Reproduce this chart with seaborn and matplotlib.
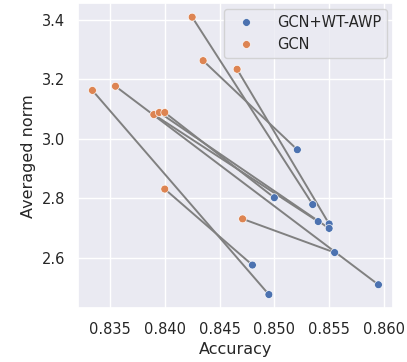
#!/usr/bin/env python3
"""
Purpose: Accuracy vs averaged norm, GCN and GCN+WT-AWP pairs
"""

import pandas as pd
import matplotlib
matplotlib.use('Agg')
import matplotlib.pyplot as plt
import seaborn as sns

# paired runs: index i of GCN goes with index i of GCN+WT-AWP
acc_gcn = [0.8425, 0.8435, 0.8466, 0.8334, 0.8355, 0.8390, 0.8395, 0.8400, 0.8400, 0.8471]
norm_gcn = [3.408, 3.262, 3.233, 3.162, 3.176, 3.081, 3.088, 3.088, 2.831, 2.731]
acc_awp = [0.8535, 0.8521, 0.8550, 0.8495, 0.8595, 0.8540, 0.8550, 0.8500, 0.8480, 0.8555]
norm_awp = [2.779, 2.963, 2.714, 2.477, 2.510, 2.722, 2.699, 2.802, 2.576, 2.618]
methods = ['GCN+WT-AWP', 'GCN']


# --------------------------------------------------
def main():
    """Draw the figure"""

    sns.set_theme(style='darkgrid', font_scale=0.96)

    df = pd.concat([
        pd.DataFrame({'Accuracy': acc_awp, 'Averaged norm': norm_awp, 'method': methods[0]}),
        pd.DataFrame({'Accuracy': acc_gcn, 'Averaged norm': norm_gcn, 'method': methods[1]}),
    ], ignore_index=True)

    fig, ax = plt.subplots(figsize=(4.07, 3.62), dpi=100)
    fig.subplots_adjust(left=0.192, right=0.965, top=0.991, bottom=0.148)

    # connecting lines between paired runs
    for x1, y1, x2, y2 in zip(acc_gcn, norm_gcn, acc_awp, norm_awp):
        ax.plot([x1, x2], [y1, y2], color='gray', linewidth=1.4, zorder=1)

    sns.scatterplot(data=df, x='Accuracy', y='Averaged norm', hue='method',
                    hue_order=methods, ax=ax, zorder=2, s=32)

    ax.legend(loc='upper right', title=None, handlelength=2.2,
              handletextpad=1.0, borderaxespad=0.4)
    ax.set_xticks([0.835, 0.840, 0.845, 0.850, 0.855, 0.860])
    ax.set_yticks([2.6, 2.8, 3.0, 3.2, 3.4])

    fig.savefig('out.png')


# --------------------------------------------------
if __name__ == '__main__':
    main()
